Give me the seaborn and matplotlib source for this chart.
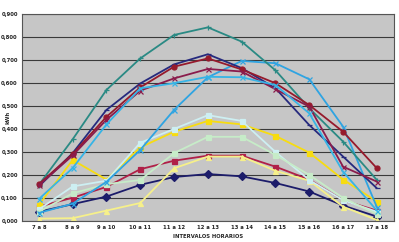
import matplotlib
matplotlib.use("Agg")
import matplotlib.pyplot as plt
import seaborn as sns
import pandas as pd
from matplotlib.ticker import FuncFormatter

intervalos = ["7 a 8", "8 a 9", "9 a 10", "10 a 11", "11 a 12", "12 a 13",
              "13 a 14", "14 a 15", "15 a 16", "16 a 17", "17 a 18"]

serie_a = [0.040, 0.073, 0.106, 0.157, 0.191, 0.204, 0.194, 0.165, 0.128, 0.067, 0.019]
serie_b = [0.062, 0.101, 0.148, 0.225, 0.262, 0.284, 0.284, 0.236, 0.180, 0.090, 0.045]
serie_c = [0.010, 0.012, 0.045, 0.078, 0.229, 0.280, 0.280, 0.218, 0.175, 0.062, 0.004]
serie_d = [0.070, 0.265, 0.180, 0.320, 0.388, 0.435, 0.420, 0.370, 0.297, 0.180, 0.084]
serie_e = [0.050, 0.150, 0.175, 0.340, 0.400, 0.460, 0.435, 0.300, 0.178, 0.090, 0.040]
serie_f = [0.040, 0.120, 0.160, 0.178, 0.295, 0.366, 0.366, 0.287, 0.200, 0.100, 0.030]
serie_g = [0.035, 0.075, 0.170, 0.309, 0.483, 0.625, 0.696, 0.686, 0.616, 0.410, 0.060]
serie_h = [0.157, 0.355, 0.570, 0.707, 0.809, 0.842, 0.780, 0.655, 0.490, 0.345, 0.178]
serie_i = [0.150, 0.295, 0.483, 0.598, 0.681, 0.725, 0.665, 0.577, 0.417, 0.280, 0.142]
serie_j = [0.160, 0.291, 0.453, 0.581, 0.671, 0.707, 0.659, 0.599, 0.504, 0.388, 0.229]
serie_k = [0.155, 0.285, 0.440, 0.567, 0.620, 0.661, 0.650, 0.573, 0.497, 0.236, 0.171]
serie_l = [0.095, 0.230, 0.420, 0.577, 0.599, 0.627, 0.625, 0.591, 0.468, 0.214, 0.045]

series = {
    "A": serie_a, "B": serie_b, "C": serie_c, "D": serie_d, "E": serie_e,
    "F": serie_f, "G": serie_g, "H": serie_h, "I": serie_i, "J": serie_j,
    "K": serie_k, "L": serie_l,
}

colores = {
    "A": "#1c1c6a", "B": "#b02048", "C": "#f6f08a", "D": "#f7dc10",
    "E": "#cdeff2", "F": "#c6ecc8", "G": "#2fa4e2", "H": "#2a8a84",
    "I": "#262a7e", "J": "#961a2c", "K": "#8a1c4c", "L": "#36b4e6",
}
marcadores = {
    "A": "D", "B": "s", "C": "^", "D": "s", "E": "s", "F": "s",
    "G": "x", "H": "+", "I": "_", "J": "o", "K": "x", "L": "x",
}

rows = []
for nombre, vals in series.items():
    for iv, v in zip(intervalos, vals):
        rows.append({"intervalo": iv, "kwh": v, "serie": nombre})
df = pd.DataFrame(rows)

sns.set_theme(style="white")
plt.rcParams["font.family"] = ["DejaVu Sans"]

fig = plt.figure(figsize=(3.99, 2.42), dpi=100)
ax = fig.add_axes([0.055, 0.087, 0.932, 0.855])
ax.set_facecolor("#c6c6c6")

for nombre in series:
    sub = df[df["serie"] == nombre]
    sns.lineplot(data=sub, x="intervalo", y="kwh", color=colores[nombre],
                 marker=marcadores[nombre], sort=False, legend=False, ax=ax,
                 linewidth=1.3, markersize=3.6, markeredgewidth=0.9,
                 markeredgecolor=colores[nombre])

ax.set_ylim(0, 0.9)
ax.set_xlim(-0.5, len(intervalos) - 0.5)
ax.set_yticks([i / 10 for i in range(10)])
ax.yaxis.set_major_formatter(FuncFormatter(lambda v, p: f"{v:.3f}".replace(".", ",")))
ax.grid(axis="y", color="#3a3a3a", linewidth=0.8)
ax.grid(axis="x", visible=False)
ax.set_axisbelow(True)
for s in ax.spines.values():
    s.set_color("#555555")
    s.set_linewidth(0.8)

ax.tick_params(axis="both", labelsize=3.8, length=1.5, pad=1.5, colors="#222222")
for lab in ax.get_xticklabels() + ax.get_yticklabels():
    lab.set_fontweight("bold")
ax.set_xlabel("INTERVALOS HORARIOS", fontsize=3.8, fontweight="bold", labelpad=3)
ax.set_ylabel("kWh", fontsize=3.8, fontweight="bold")
ax.yaxis.set_label_coords(-0.032, 0.5)

fig.savefig("out.png", dpi=100)
